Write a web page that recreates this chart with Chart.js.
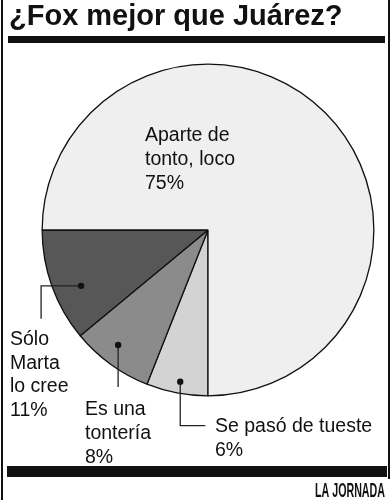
<!DOCTYPE html>
<html>
<head>
<meta charset="utf-8">
<script src="https://cdn.jsdelivr.net/npm/chart.js@4.4.1/dist/chart.umd.min.js"></script>
<style>
  html, body { margin: 0; padding: 0; background: #fff; }
  canvas { display: block; }
</style>
</head>
<body>
<canvas id="pie" width="392" height="500"></canvas>
<script>
// order: clockwise starting from the bottom (6 o'clock)
const labels = ["Se pasó de tueste", "Es una tontería", "Sólo Marta lo cree", "Aparte de tonto, loco"];
const values = [6, 8, 11, 75];
const colors = ["#d3d3d3", "#8b8b8b", "#575757", "#efefef"];
const title = "¿Fox mejor que Juárez?";
const source = "LA JORNADA";

// label text lines, one block per slice
const labelLines = [
  ["Se pasó de tueste", "6%"],
  ["Es una", "tontería", "8%"],
  ["Sólo", "Marta", "lo cree", "11%"],
  ["Aparte de", "tonto, loco", "75%"]
];

const decor = {
  id: 'decor',
  afterDraw(chart) {
    const c = chart.ctx;
    const arcs = chart.getDatasetMeta(0).data;
    c.save();

    // frame + title
    c.fillStyle = '#111';
    c.fillRect(1, 0, 2, 500);
    c.fillRect(388, 0, 2, 479);
    c.font = 'bold 29px "Liberation Sans", Arial, sans-serif';
    c.textBaseline = 'alphabetic';
    c.fillText(title, 9, 25);
    c.fillRect(8, 36, 377, 7);
    c.fillRect(7, 466, 380, 11);

    // source, condensed
    c.save();
    c.font = 'bold 19.5px "Liberation Sans", Arial, sans-serif';
    const w = c.measureText(source).width;
    c.translate(385, 497);
    c.scale(70 / w, 1);
    c.textAlign = 'right';
    c.fillText(source, 0, 0);
    c.restore();

    // dots and leaders: [fraction along slice angle, fraction of radius]
    const spots = [[0.48, 0.93], [0.57, 0.88], [0.40, 0.836]];
    const dots = spots.map((s, i) => {
      const a = arcs[i];
      const ang = a.startAngle + (a.endAngle - a.startAngle) * s[0];
      const r = a.outerRadius * s[1];
      return [a.x + Math.cos(ang) * r, a.y + Math.sin(ang) * r];
    });
    c.strokeStyle = '#222';
    c.lineWidth = 1.3;
    c.beginPath();
    // 6%
    c.moveTo(dots[0][0], dots[0][1]);
    c.lineTo(dots[0][0], dots[0][1] + 44);
    c.lineTo(dots[0][0] + 25, dots[0][1] + 44);
    // 8%
    c.moveTo(dots[1][0], dots[1][1]);
    c.lineTo(dots[1][0], dots[1][1] + 42);
    // 11%
    c.moveTo(dots[2][0], dots[2][1]);
    c.lineTo(dots[2][0] - 40, dots[2][1]);
    c.lineTo(dots[2][0] - 40, dots[2][1] + 33);
    c.stroke();
    c.fillStyle = '#111';
    dots.forEach(d => {
      c.beginPath();
      c.arc(d[0], d[1], 3.2, 0, Math.PI * 2);
      c.fill();
    });

    // label texts
    c.font = '19.5px "Liberation Sans", Arial, sans-serif';
    const pos = [[215, 432, 23.5], [85, 415, 24], [10, 345, 23.7], [145, 141, 24]];
    labelLines.forEach((lines, i) => {
      lines.forEach((t, j) => c.fillText(t, pos[i][0], pos[i][1] + j * pos[i][2]));
    });
    c.restore();
  }
};

new Chart(document.getElementById('pie'), {
  type: 'pie',
  data: {
    labels: labels,
    datasets: [{
      data: values,
      backgroundColor: colors,
      borderColor: '#111',
      borderWidth: 1.3
    }]
  },
  options: {
    responsive: false,
    animation: false,
    rotation: 180,
    layout: { padding: { left: 41.5, right: 17.5, top: 63.5, bottom: 103.5 } },
    plugins: {
      legend: { display: false },
      tooltip: { enabled: false }
    }
  },
  plugins: [decor]
});
</script>
</body>
</html>
